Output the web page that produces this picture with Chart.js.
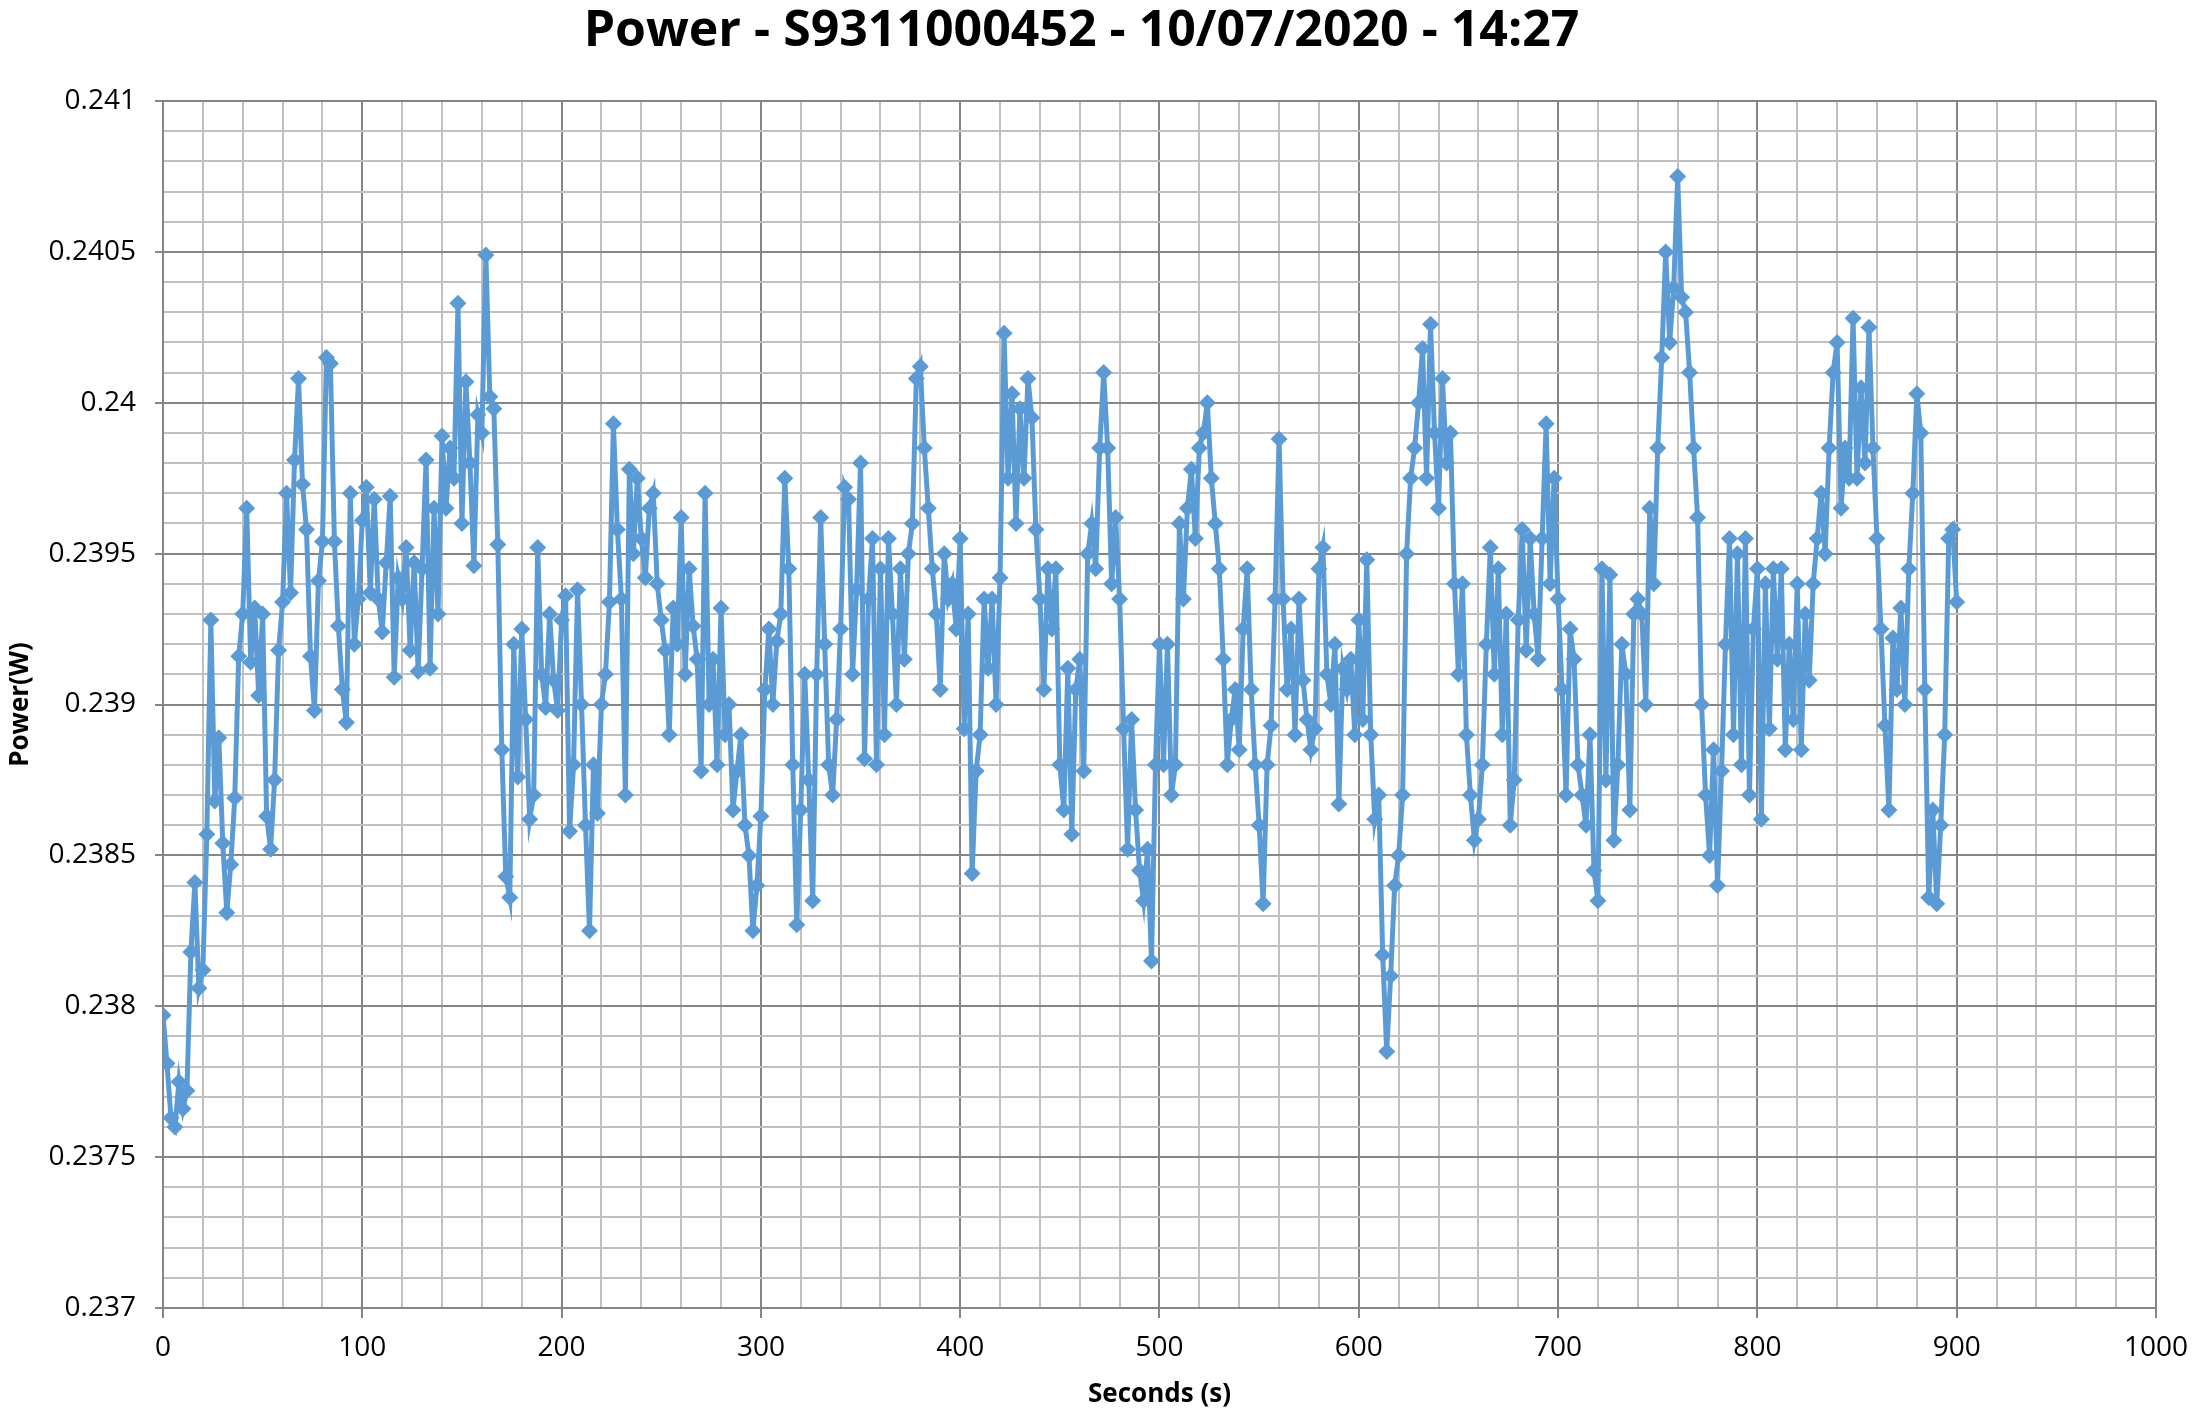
<!DOCTYPE html>
<html>
<head>
<meta charset="utf-8">
<title>Power - S9311000452</title>
<script src="https://cdn.jsdelivr.net/npm/chart.js@4.4.0/dist/chart.umd.min.js"></script>
<style>
    html, body { margin: 0; padding: 0; background: #fff; }
    #chart { display: block; }
</style>
</head>
<body>
<canvas id="chart" width="2201" height="1415"></canvas>
<script>
const chartTitle = 'Power - S9311000452 - 10/07/2020 - 14:27';
const xTitle = 'Seconds (s)';
const yTitle = 'Power(W)';

// one reading every 2 s
const sampleStep = 2;
const power = [
    0.23797, 0.23781, 0.23763, 0.23760, 0.23775, 0.23766, 0.23772, 0.23818, 0.23841, 0.23806, // 0-18
    0.23812, 0.23857, 0.23928, 0.23868, 0.23889, 0.23854, 0.23831, 0.23847, 0.23869, 0.23916, // 20-38
    0.23930, 0.23965, 0.23914, 0.23932, 0.23903, 0.23930, 0.23863, 0.23852, 0.23875, 0.23918, // 40-58
    0.23934, 0.23970, 0.23937, 0.23981, 0.24008, 0.23973, 0.23958, 0.23916, 0.23898, 0.23941, // 60-78
    0.23954, 0.24015, 0.24013, 0.23954, 0.23926, 0.23905, 0.23894, 0.23970, 0.23920, 0.23935, // 80-98
    0.23961, 0.23972, 0.23937, 0.23968, 0.23935, 0.23924, 0.23947, 0.23969, 0.23909, 0.23942, // 100-118
    0.23935, 0.23952, 0.23918, 0.23947, 0.23911, 0.23945, 0.23981, 0.23912, 0.23965, 0.23930, // 120-138
    0.23989, 0.23965, 0.23985, 0.23975, 0.24033, 0.23960, 0.24007, 0.23980, 0.23946, 0.23996, // 140-158
    0.23990, 0.24049, 0.24002, 0.23998, 0.23953, 0.23885, 0.23843, 0.23836, 0.23920, 0.23876, // 160-178
    0.23925, 0.23895, 0.23862, 0.23870, 0.23952, 0.23910, 0.23899, 0.23930, 0.23908, 0.23898, // 180-198
    0.23928, 0.23936, 0.23858, 0.23880, 0.23938, 0.23900, 0.23860, 0.23825, 0.23880, 0.23864, // 200-218
    0.23900, 0.23910, 0.23934, 0.23993, 0.23958, 0.23935, 0.23870, 0.23978, 0.23950, 0.23975, // 220-238
    0.23955, 0.23942, 0.23965, 0.23970, 0.23940, 0.23928, 0.23918, 0.23890, 0.23932, 0.23920, // 240-258
    0.23962, 0.23910, 0.23945, 0.23926, 0.23915, 0.23878, 0.23970, 0.23900, 0.23915, 0.23880, // 260-278
    0.23932, 0.23890, 0.23900, 0.23865, 0.23878, 0.23890, 0.23860, 0.23850, 0.23825, 0.23840, // 280-298
    0.23863, 0.23905, 0.23925, 0.23900, 0.23921, 0.23930, 0.23975, 0.23945, 0.23880, 0.23827, // 300-318
    0.23865, 0.23910, 0.23875, 0.23835, 0.23910, 0.23962, 0.23920, 0.23880, 0.23870, 0.23895, // 320-338
    0.23925, 0.23972, 0.23968, 0.23910, 0.23938, 0.23980, 0.23882, 0.23935, 0.23955, 0.23880, // 340-358
    0.23945, 0.23890, 0.23955, 0.23930, 0.23900, 0.23945, 0.23915, 0.23950, 0.23960, 0.24008, // 360-378
    0.24012, 0.23985, 0.23965, 0.23945, 0.23930, 0.23905, 0.23950, 0.23935, 0.23940, 0.23925, // 380-398
    0.23955, 0.23892, 0.23930, 0.23844, 0.23878, 0.23890, 0.23935, 0.23912, 0.23935, 0.23900, // 400-418
    0.23942, 0.24023, 0.23975, 0.24003, 0.23960, 0.23998, 0.23975, 0.24008, 0.23995, 0.23958, // 420-438
    0.23935, 0.23905, 0.23945, 0.23925, 0.23945, 0.23880, 0.23865, 0.23912, 0.23857, 0.23905, // 440-458
    0.23915, 0.23878, 0.23950, 0.23960, 0.23945, 0.23985, 0.24010, 0.23985, 0.23940, 0.23962, // 460-478
    0.23935, 0.23892, 0.23852, 0.23895, 0.23865, 0.23845, 0.23835, 0.23852, 0.23815, 0.23880, // 480-498
    0.23920, 0.23880, 0.23920, 0.23870, 0.23880, 0.23960, 0.23935, 0.23965, 0.23978, 0.23955, // 500-518
    0.23985, 0.23990, 0.24000, 0.23975, 0.23960, 0.23945, 0.23915, 0.23880, 0.23895, 0.23905, // 520-538
    0.23885, 0.23925, 0.23945, 0.23905, 0.23880, 0.23860, 0.23834, 0.23880, 0.23893, 0.23935, // 540-558
    0.23988, 0.23935, 0.23905, 0.23925, 0.23890, 0.23935, 0.23908, 0.23895, 0.23885, 0.23892, // 560-578
    0.23945, 0.23952, 0.23910, 0.23900, 0.23920, 0.23867, 0.23912, 0.23905, 0.23915, 0.23890, // 580-598
    0.23928, 0.23895, 0.23948, 0.23890, 0.23862, 0.23870, 0.23817, 0.23785, 0.23810, 0.23840, // 600-618
    0.23850, 0.23870, 0.23950, 0.23975, 0.23985, 0.24000, 0.24018, 0.23975, 0.24026, 0.23990, // 620-638
    0.23965, 0.24008, 0.23980, 0.23990, 0.23940, 0.23910, 0.23940, 0.23890, 0.23870, 0.23855, // 640-658
    0.23862, 0.23880, 0.23920, 0.23952, 0.23910, 0.23945, 0.23890, 0.23930, 0.23860, 0.23875, // 660-678
    0.23928, 0.23958, 0.23918, 0.23955, 0.23930, 0.23915, 0.23955, 0.23993, 0.23940, 0.23975, // 680-698
    0.23935, 0.23905, 0.23870, 0.23925, 0.23915, 0.23880, 0.23870, 0.23860, 0.23890, 0.23845, // 700-718
    0.23835, 0.23945, 0.23875, 0.23943, 0.23855, 0.23880, 0.23920, 0.23910, 0.23865, 0.23930, // 720-738
    0.23935, 0.23930, 0.23900, 0.23965, 0.23940, 0.23985, 0.24015, 0.24050, 0.24020, 0.24038, // 740-758
    0.24075, 0.24035, 0.24030, 0.24010, 0.23985, 0.23962, 0.23900, 0.23870, 0.23850, 0.23885, // 760-778
    0.23840, 0.23878, 0.23920, 0.23955, 0.23890, 0.23950, 0.23880, 0.23955, 0.23870, 0.23925, // 780-798
    0.23945, 0.23862, 0.23940, 0.23892, 0.23945, 0.23915, 0.23945, 0.23885, 0.23920, 0.23895, // 800-818
    0.23940, 0.23885, 0.23930, 0.23908, 0.23940, 0.23955, 0.23970, 0.23950, 0.23985, 0.24010, // 820-838
    0.24020, 0.23965, 0.23985, 0.23975, 0.24028, 0.23975, 0.24005, 0.23980, 0.24025, 0.23985, // 840-858
    0.23955, 0.23925, 0.23893, 0.23865, 0.23922, 0.23905, 0.23932, 0.23900, 0.23945, 0.23970, // 860-878
    0.24003, 0.23990, 0.23905, 0.23836, 0.23865, 0.23834, 0.23860, 0.23890, 0.23955, 0.23958, // 880-898
    0.23934                                                                                     // 900
];
const seconds = power.map((v, i) => i * sampleStep);

const xMin = 0, xMax = 1000, xMinorStep = 20, xMajorStep = 100;
const yMin = 0.237, yMax = 0.241, yMinorStep = 0.0001, yMajorStep = 0.0005;

const lineColor = '#5B9BD5';
const majorGrid = '#868686';
const minorGrid = '#c0c0c0';
const fontFamily = "'Open Sans', 'Liberation Sans', sans-serif";

function isMajorX(v) {
    return Math.round(v) % xMajorStep === 0;
}
function isMajorY(v) {
    return Math.round(v / yMinorStep) % Math.round(yMajorStep / yMinorStep) === 0;
}

const points = seconds.map((s, i) => ({ x: s, y: power[i] }));

const ctx = document.getElementById('chart').getContext('2d');
new Chart(ctx, {
    type: 'line',
    data: {
        datasets: [{
            label: yTitle,
            data: points,
            borderColor: lineColor,
            backgroundColor: lineColor,
            borderWidth: 5,
            tension: 0,
            pointStyle: 'rectRot',
            pointRadius: 8.5,
            pointBorderWidth: 0,
            pointBackgroundColor: lineColor
        }]
    },
    options: {
        responsive: false,
        devicePixelRatio: 1,
        animation: false,
        layout: { padding: { left: 0, right: 38, top: 0, bottom: 0 } },
        plugins: {
            legend: { display: false },
            tooltip: { enabled: false },
            title: {
                display: true,
                text: chartTitle,
                color: '#000',
                font: { family: fontFamily, size: 50, weight: 'bold', lineHeight: 1.2 },
                padding: { top: 2, bottom: 39 }
            }
        },
        scales: {
            x: {
                type: 'linear',
                min: xMin,
                max: xMax,
                afterFit: (scale) => { scale.height = 107; },
                ticks: {
                    stepSize: xMinorStep,
                    autoSkip: false,
                    maxRotation: 0,
                    padding: 13,
                    color: '#000',
                    font: { family: fontFamily, size: 28 },
                    callback: (v) => isMajorX(v) ? String(v) : ''
                },
                grid: {
                    color: (c) => isMajorX(c.tick.value) ? majorGrid : minorGrid,
                    tickColor: (c) => isMajorX(c.tick.value) ? majorGrid : 'rgba(0,0,0,0)',
                    lineWidth: 2,
                    tickLength: 10
                },
                border: { color: majorGrid, width: 2 },
                title: {
                    display: true,
                    text: xTitle,
                    color: '#000',
                    font: { family: fontFamily, size: 26, weight: 'bold', lineHeight: 1.2 },
                    padding: { top: 0, bottom: 5 }
                }
            },
            y: {
                min: yMin,
                max: yMax,
                afterFit: (scale) => { scale.width = 163; },
                ticks: {
                    stepSize: yMinorStep,
                    autoSkip: false,
                    padding: 19,
                    color: '#000',
                    font: { family: fontFamily, size: 28 },
                    callback: (v) => isMajorY(v) ? String(+v.toFixed(4)) : ''
                },
                grid: {
                    color: (c) => isMajorY(c.tick.value) ? majorGrid : minorGrid,
                    tickColor: (c) => isMajorY(c.tick.value) ? majorGrid : 'rgba(0,0,0,0)',
                    lineWidth: 2,
                    tickLength: 8
                },
                border: { color: majorGrid, width: 2 },
                title: {
                    display: true,
                    text: yTitle,
                    color: '#000',
                    font: { family: fontFamily, size: 26, weight: 'bold', lineHeight: 1.2 },
                    padding: { top: 5, bottom: 0 }
                }
            }
        }
    }
});
</script>
</body>
</html>
